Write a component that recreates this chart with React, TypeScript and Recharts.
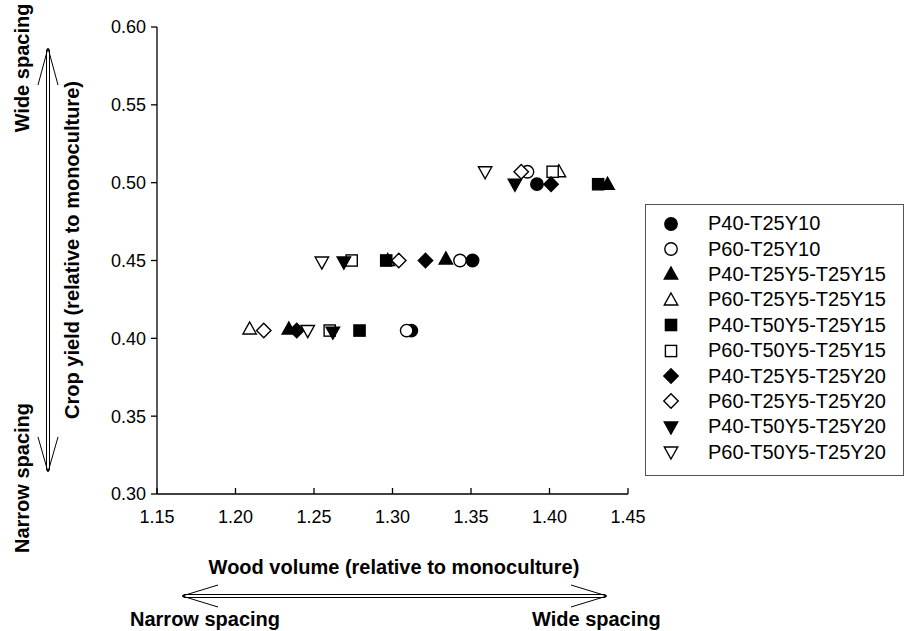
import React from 'react';
import { ScatterChart, Scatter, XAxis, YAxis } from 'recharts';

const FONT = 'Arial, "Liberation Sans", sans-serif';

const xTicks = [1.15, 1.2, 1.25, 1.3, 1.35, 1.4, 1.45];
const yTicks = [0.3, 0.35, 0.4, 0.45, 0.5, 0.55, 0.6];

// wood volume (x) vs crop yield (y), one point per spacing
const p40T25Y10 = [{ x: 1.392, y: 0.499 }, { x: 1.351, y: 0.45 }, { x: 1.312, y: 0.405 }];
const p60T25Y10 = [{ x: 1.386, y: 0.507 }, { x: 1.343, y: 0.45 }, { x: 1.309, y: 0.405 }];
const p40T25Y5T25Y15 = [{ x: 1.437, y: 0.499 }, { x: 1.334, y: 0.451 }, { x: 1.234, y: 0.406 }];
const p60T25Y5T25Y15 = [{ x: 1.406, y: 0.507 }, { x: 1.297, y: 0.45 }, { x: 1.209, y: 0.406 }];
const p40T50Y5T25Y15 = [{ x: 1.431, y: 0.499 }, { x: 1.296, y: 0.45 }, { x: 1.279, y: 0.405 }];
const p60T50Y5T25Y15 = [{ x: 1.402, y: 0.507 }, { x: 1.274, y: 0.45 }, { x: 1.26, y: 0.405 }];
const p40T25Y5T25Y20 = [{ x: 1.401, y: 0.499 }, { x: 1.321, y: 0.45 }, { x: 1.239, y: 0.405 }];
const p60T25Y5T25Y20 = [{ x: 1.382, y: 0.507 }, { x: 1.304, y: 0.45 }, { x: 1.218, y: 0.405 }];
const p40T50Y5T25Y20 = [{ x: 1.378, y: 0.499 }, { x: 1.269, y: 0.449 }, { x: 1.262, y: 0.404 }];
const p60T50Y5T25Y20 = [{ x: 1.359, y: 0.507 }, { x: 1.255, y: 0.449 }, { x: 1.246, y: 0.405 }];

type Kind = 'circle' | 'triangle' | 'square' | 'diamond' | 'down';

const series: { name: string; data: { x: number; y: number }[]; kind: Kind; filled: boolean }[] = [
  { name: 'P40-T25Y10', data: p40T25Y10, kind: 'circle', filled: true },
  { name: 'P60-T25Y10', data: p60T25Y10, kind: 'circle', filled: false },
  { name: 'P40-T25Y5-T25Y15', data: p40T25Y5T25Y15, kind: 'triangle', filled: true },
  { name: 'P60-T25Y5-T25Y15', data: p60T25Y5T25Y15, kind: 'triangle', filled: false },
  { name: 'P40-T50Y5-T25Y15', data: p40T50Y5T25Y15, kind: 'square', filled: true },
  { name: 'P60-T50Y5-T25Y15', data: p60T50Y5T25Y15, kind: 'square', filled: false },
  { name: 'P40-T25Y5-T25Y20', data: p40T25Y5T25Y20, kind: 'diamond', filled: true },
  { name: 'P60-T25Y5-T25Y20', data: p60T25Y5T25Y20, kind: 'diamond', filled: false },
  { name: 'P40-T50Y5-T25Y20', data: p40T50Y5T25Y20, kind: 'down', filled: true },
  { name: 'P60-T50Y5-T25Y20', data: p60T50Y5T25Y20, kind: 'down', filled: false },
];

const Marker = ({ kind, filled, cx, cy }: { kind: Kind; filled: boolean; cx: number; cy: number }) => {
  const style = { fill: filled ? '#000' : '#fff', stroke: '#000', strokeWidth: 1.4 };
  if (kind === 'circle') return <circle cx={cx} cy={cy} r={6.2} {...style} />;
  if (kind === 'square') return <rect x={cx - 5.6} y={cy - 5.6} width={11.2} height={11.2} {...style} />;
  if (kind === 'diamond')
    return <polygon points={`${cx},${cy - 7.2} ${cx + 7.2},${cy} ${cx},${cy + 7.2} ${cx - 7.2},${cy}`} {...style} />;
  if (kind === 'triangle')
    return <polygon points={`${cx},${cy - 7} ${cx + 6.7},${cy + 5} ${cx - 6.7},${cy + 5}`} {...style} />;
  return <polygon points={`${cx},${cy + 7} ${cx + 6.7},${cy - 5} ${cx - 6.7},${cy - 5}`} {...style} />;
};

const XTick = (props: any) => {
  const { x, y, payload } = props;
  return (
    <g>
      <line x1={x} y1={y} x2={x} y2={y - 6} stroke="#000" strokeWidth={1.3} />
      <text x={x} y={y + 29} textAnchor="middle" fontSize={18} fontFamily={FONT} fill="#000">
        {Number(payload.value).toFixed(2)}
      </text>
    </g>
  );
};

const Legend = () => (
  <div
    style={{
      position: 'absolute',
      left: 645,
      top: 204,
      width: 259,
      height: 272,
      border: '1px solid #555',
      background: '#fff',
      boxSizing: 'border-box',
      paddingTop: 6,
      fontFamily: FONT,
      fontSize: 20,
    }}
  >
    {series.map((s) => (
      <div key={s.name} style={{ height: 25.4, display: 'flex', alignItems: 'center' }}>
        <svg width={20} height={20} style={{ marginLeft: 15, marginRight: 27 }}>
          <Marker kind={s.kind} filled={s.filled} cx={10} cy={10} />
        </svg>
        <span>{s.name}</span>
      </div>
    ))}
  </div>
);

const Annotations = () => (
  <svg
    width={906}
    height={631}
    style={{ position: 'absolute', left: 0, top: 0, pointerEvents: 'none' }}
    fontFamily={FONT}
    fontWeight="bold"
    fontSize={20}
  >
    <text x={72} y={250} transform="rotate(-90 72 250)" textAnchor="middle" dominantBaseline="central">
      Crop yield (relative to monoculture)
    </text>
    <text x={22} y={68} transform="rotate(-90 22 68)" textAnchor="middle" dominantBaseline="central">
      Wide spacing
    </text>
    <text x={22} y={478} transform="rotate(-90 22 478)" textAnchor="middle" dominantBaseline="central">
      Narrow spacing
    </text>
    <text x={394} y={574} textAnchor="middle">
      Wood volume (relative to monoculture)
    </text>
    <text x={130} y={626}>Narrow spacing</text>
    <text x={532} y={626}>Wide spacing</text>

    <g stroke="#000" strokeWidth={1} fill="none">
      <rect x={46.5} y={50} width={3} height={420} fill="#fff" />
      <polyline points="38,85 48,48 58,85" />
      <polyline points="38,437 48,472 58,437" />
      <rect x={184} y={594.5} width={421} height={3} fill="#fff" />
      <polyline points="218,585 182,596 218,607" />
      <polyline points="571,585 607,596 571,607" />
    </g>
  </svg>
);

export default function App() {
  return (
    <div style={{ position: 'absolute', left: 0, top: 0, width: 906, height: 631, background: '#fff', fontFamily: FONT }}>
      <ScatterChart width={906} height={631} margin={{ top: 27, right: 278, bottom: 97, left: 57 }}>
        <XAxis
          type="number"
          dataKey="x"
          domain={[1.15, 1.45]}
          ticks={xTicks}
          interval={0}
          height={40}
          tickSize={0}
          tickMargin={0}
          tick={<XTick />}
          axisLine={{ stroke: '#000', strokeWidth: 1.3 }}
          allowDataOverflow
        />
        <YAxis
          type="number"
          dataKey="y"
          domain={[0.3, 0.6]}
          ticks={yTicks}
          interval={0}
          width={100}
          tickSize={6}
          tickMargin={5}
          tickFormatter={(v: number) => v.toFixed(2)}
          tick={{ fill: '#000', fontSize: 18, fontFamily: FONT }}
          tickLine={{ stroke: '#000', strokeWidth: 1.3 }}
          axisLine={{ stroke: '#000', strokeWidth: 1.3 }}
          allowDataOverflow
        />
        {series.map((s) => (
          <Scatter
            key={s.name}
            name={s.name}
            data={s.data}
            isAnimationActive={false}
            shape={(p: any) => <Marker kind={s.kind} filled={s.filled} cx={p.cx} cy={p.cy} />}
          />
        ))}
      </ScatterChart>
      <Legend />
      <Annotations />
    </div>
  );
}
